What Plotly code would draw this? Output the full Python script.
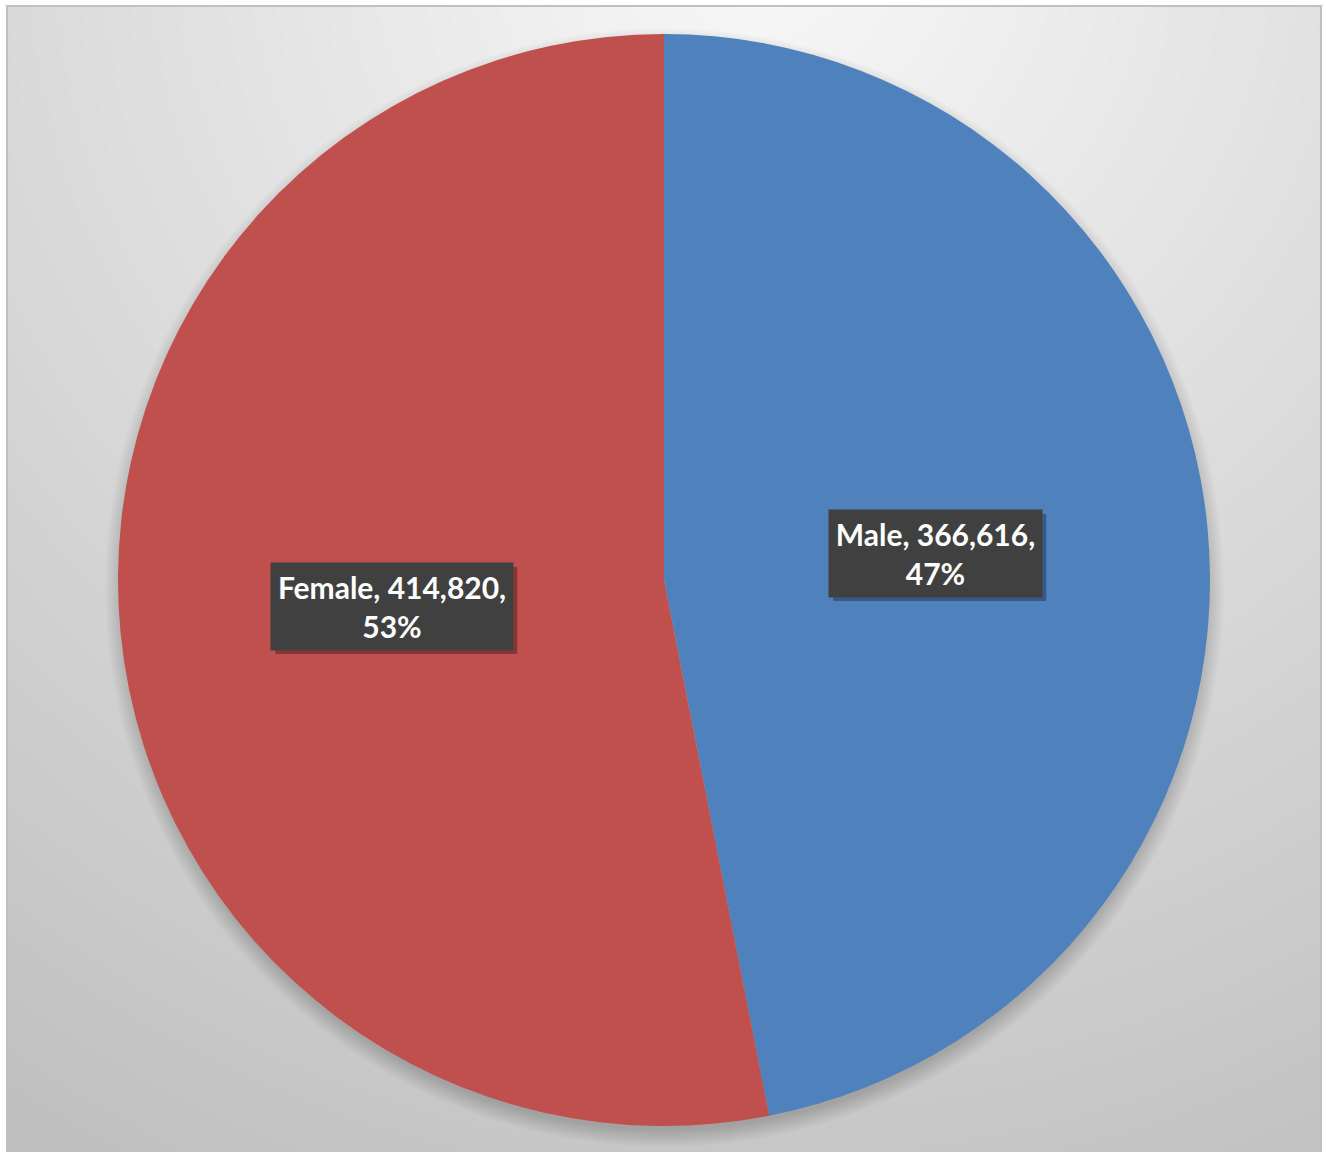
import base64, struct, zlib
import numpy as np
import plotly.graph_objects as go

# ---- data ----
labels = ["Male", "Female"]
values = [366616, 414820]
colors = ["#4F81BD", "#C0504D"]

W, H = 1326, 1152
# pie geometry (pixels)
CX, CY, R = 664, 580, 546

# ---- background gradient image (style only) ----
def make_png(gray):
    h, w = gray.shape
    raw = b"".join(b"\x00" + gray[i].tobytes() for i in range(h))
    def chunk(t, d):
        c = struct.pack(">I", len(d)) + t + d
        return c + struct.pack(">I", zlib.crc32(t + d) & 0xFFFFFFFF)
    ihdr = struct.pack(">IIBBBBB", w, h, 8, 0, 0, 0, 0)
    return (b"\x89PNG\r\n\x1a\n" + chunk(b"IHDR", ihdr)
            + chunk(b"IDAT", zlib.compress(raw, 9)) + chunk(b"IEND", b""))

yy, xx = np.mgrid[0:H, 0:W].astype(float)
d = np.hypot(xx - 760, yy + 60)
v = np.clip(249 - 0.041 * d, 192, 250)
# soft shadow under the pie
rs = np.hypot(xx - CX, yy - (CY + 7))
v -= 38 * np.clip(1 - (rs - R + 4) / 18, 0, 1)
# frame
L, T, Rt, B = 6, 5, 1320, 1151
outside = (xx < L) | (xx > Rt + 1) | (yy < T) | (yy > B)
v[outside] = 255
border = ~outside & ((xx < L + 2) | (xx > Rt - 1) | (yy < T + 2))
v[border] = 192
img = np.clip(v, 0, 255).astype(np.uint8)
src = "data:image/png;base64," + base64.b64encode(make_png(img)).decode()

# ---- figure ----
dx0, dx1 = (CX - R) / W, (CX + R) / W
dy0, dy1 = (H - CY - R) / H, (H - CY + R) / H

fig = go.Figure(go.Pie(
    labels=labels, values=values, sort=False, direction="clockwise", rotation=0,
    marker=dict(colors=colors, line=dict(width=0)),
    textinfo="none", showlegend=False,
    domain=dict(x=[dx0, dx1], y=[dy0, dy1]),
))

total = sum(values)
cum = 0
shapes = []
annotations = []
rx, ry = R / W, R / H
pcx, pcy = CX / W, (H - CY) / H
box_w, box_h = [213, 242], [87, 87]
for i, (lab, val) in enumerate(zip(labels, values)):
    theta = 2 * np.pi * (cum + val / 2) / total
    cum += val
    ax = pcx + 0.5 * rx * np.sin(theta)
    ay = pcy + 0.5 * ry * np.cos(theta)
    bw, bh = box_w[i], box_h[i]
    # shadow rectangle
    shapes.append(dict(type="rect", xref="paper", yref="paper", layer="above",
                       x0=ax - bw / 2 / W + 4 / W, x1=ax + bw / 2 / W + 4 / W,
                       y0=ay - bh / 2 / H - 4 / H, y1=ay + bh / 2 / H - 4 / H,
                       fillcolor="rgba(0,0,0,0.3)", line=dict(width=0)))
    pct = round(100 * val / total)
    annotations.append(dict(
        xref="paper", yref="paper", x=ax, y=ay, xanchor="center", yanchor="middle",
        text=f"<b>{lab}, {val:,},<br>{pct}%</b>", showarrow=False,
        font=dict(family="Lato", size=30, color="white"),
        bgcolor="#404040", borderpad=0, width=bw, height=bh, align="center",
    ))

fig.update_layout(
    width=W, height=H, margin=dict(l=0, r=0, t=0, b=0),
    paper_bgcolor="white", plot_bgcolor="white",
    images=[dict(source=src, xref="paper", yref="paper", x=0, y=1, sizex=1, sizey=1,
                 xanchor="left", yanchor="top", sizing="stretch", layer="below")],
    shapes=shapes, annotations=annotations,
)
fig.write_html("out.html", config={"displayModeBar": False},
               post_script="document.body.style.margin='0';document.body.style.overflow='hidden';")
